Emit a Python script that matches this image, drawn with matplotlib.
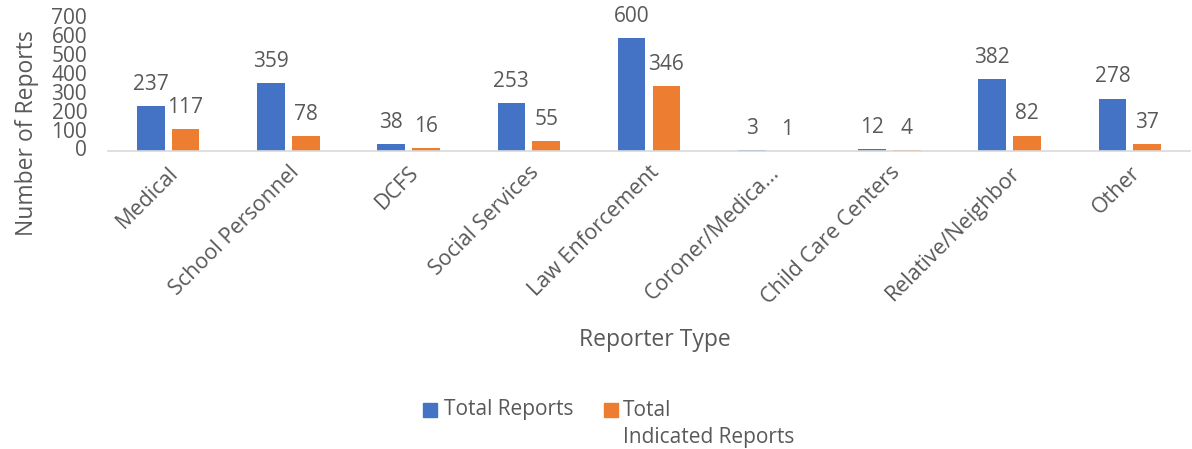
import matplotlib.pyplot as plt
import numpy as np
from matplotlib.patches import Rectangle

# data
categories = ["Medical", "School Personnel", "DCFS", "Social Services",
              "Law Enforcement", "Coroner/Medica...", "Child Care Centers",
              "Relative/Neighbor", "Other"]
total_reports = [237, 359, 38, 253, 600, 3, 12, 382, 278]
indicated_reports = [117, 78, 16, 55, 346, 1, 4, 82, 37]
y_ticks = [0, 100, 200, 300, 400, 500, 600, 700]

BLUE = "#4472C4"
ORANGE = "#ED7D31"
GRAY = "#595959"

plt.rcParams["font.family"] = ["Open Sans", "DejaVu Sans"]

fig = plt.figure(figsize=(11.92, 4.49), dpi=100)
ax = fig.add_axes([108 / 1192, 1 - 151 / 449, 1082 / 1192, 132 / 449])

x = np.arange(len(categories))
w = 0.23
off = 0.145
b1 = ax.bar(x - off, total_reports, w, color=BLUE)
b2 = ax.bar(x + off, indicated_reports, w, color=ORANGE)

for bars, vals in ((b1, total_reports), (b2, indicated_reports)):
    for rect, v in zip(bars, vals):
        ax.annotate(str(v), (rect.get_x() + rect.get_width() / 2, v),
                    xytext=(0, 8), textcoords="offset points",
                    ha="center", va="bottom", fontsize=15, color=GRAY)

ax.set_xlim(-0.5, len(categories) - 0.5)
ax.set_ylim(0, 700)
ax.set_yticks(y_ticks)
ax.tick_params(axis="y", length=0, labelsize=15, labelcolor=GRAY, pad=15)
ax.set_yticklabels([str(t) for t in y_ticks], va="center")
ax.set_xticks(x)
ax.set_xticklabels(categories, rotation=45, ha="right", rotation_mode="anchor",
                   fontsize=15.5, color=GRAY)
ax.tick_params(axis="x", length=0, pad=8)

for s in ("top", "right", "left"):
    ax.spines[s].set_visible(False)
ax.spines["bottom"].set_color("#D9D9D9")
ax.spines["bottom"].set_linewidth(1.2)

fig.text(27 / 1192, 1 - 133 / 449, "Number of Reports", rotation=90,
         ha="center", va="center", fontsize=16.5, color=GRAY)
fig.text(655 / 1192, 1 - 340 / 449, "Reporter Type",
         ha="center", va="center", fontsize=16.5, color=GRAY)

# legend drawn by hand so the wrapped label lines up like the original
fig.patches.append(Rectangle((423 / 1192, 1 - 417 / 449), 14 / 1192, 14 / 449,
                             transform=fig.transFigure, color=BLUE))
fig.text(444 / 1192, 1 - 410 / 449, "Total Reports", ha="left", va="center",
         fontsize=15, color=GRAY)
fig.patches.append(Rectangle((604 / 1192, 1 - 417 / 449), 14 / 1192, 14 / 449,
                             transform=fig.transFigure, color=ORANGE))
fig.text(623 / 1192, 1 - 410 / 449, "Total", ha="left", va="center",
         fontsize=15, color=GRAY)
fig.text(623 / 1192, 1 - 438 / 449, "Indicated Reports", ha="left", va="center",
         fontsize=15, color=GRAY)

fig.savefig("out.png", dpi=100)
